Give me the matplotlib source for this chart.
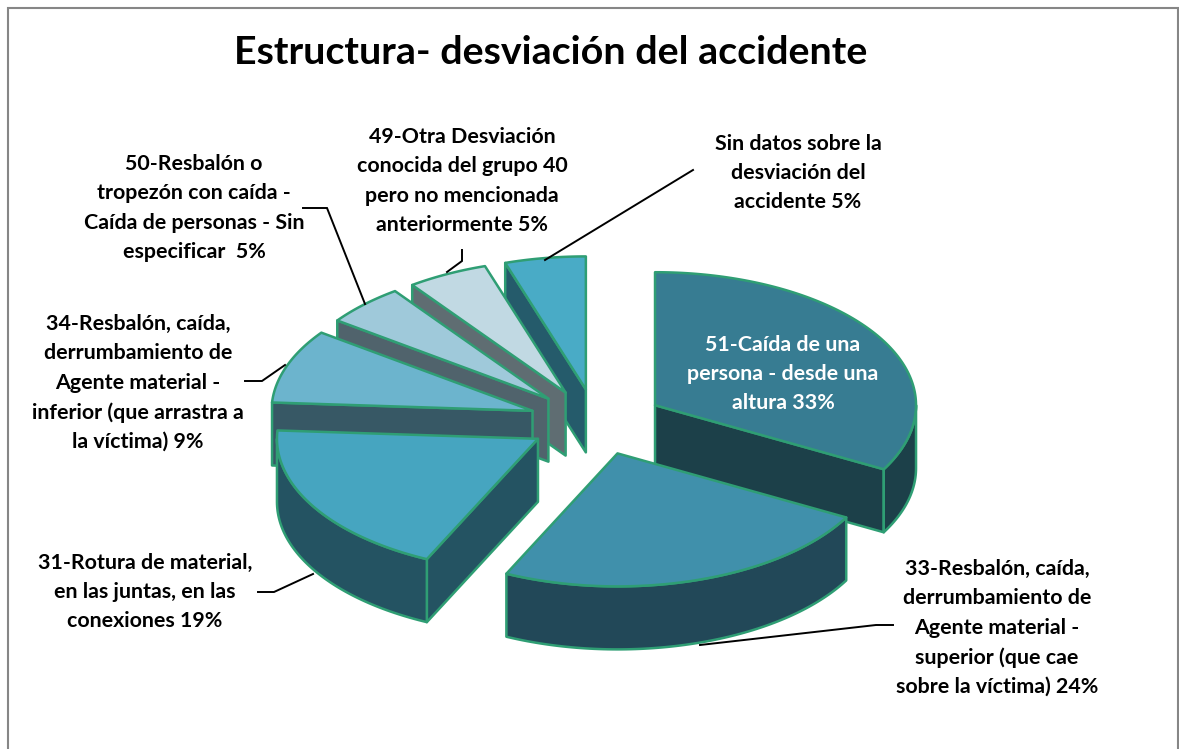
import numpy as np
import matplotlib
matplotlib.use("Agg")
import matplotlib.pyplot as plt
from matplotlib.patches import Polygon, Rectangle

plt.rcParams["font.family"] = ["Lato", "DejaVu Sans"]

title = "Estructura- desviación del accidente"
labels = [
    "51-Caída de una\npersona - desde una\naltura 33%",
    "33-Resbalón, caída,\nderrumbamiento de\nAgente material -\nsuperior (que cae\nsobre la víctima) 24%",
    "31-Rotura de material,\nen las juntas, en las\nconexiones 19%",
    "34-Resbalón, caída,\nderrumbamiento de\nAgente material -\ninferior (que arrastra a\nla víctima) 9%",
    "50-Resbalón o\ntropezón con caída -\nCaída de personas - Sin\nespecificar  5%",
    "49-Otra Desviación\nconocida del grupo 40\npero no mencionada\nanteriormente 5%",
    "Sin datos sobre la\ndesviación del\naccidente 5%",
]
values = [33, 24, 19, 9, 5, 5, 5]
top_colors = ["#377C92", "#4090AB", "#46A5C0", "#6CB4CD", "#9FC9DA", "#C1D9E3", "#49ABC6"]
side_colors = ["#1C4049", "#224858", "#245362", "#375865", "#50636C", "#5F6D72", "#255B6B"]
text_colors = ["white", "black", "black", "black", "black", "black", "black"]

# pie geometry in image pixels
center_x, center_y = 596.5, 422
radius_x, radius_y = 261, 133
explode_x, explode_y = 68, 33
depth = 63
edge = "#2F9E74"

label_pos = [(783, 374), (997, 628), (145, 592), (138, 383), (194, 208), (462, 181), (798, 173)]
leaders = [
    None,
    [(893, 625), (876, 625), (700, 645)],
    [(258, 592), (274, 592), (313, 574)],
    [(245, 381), (262, 381), (285, 365)],
    [(303, 208), (327, 208), (365, 304)],
    [(462, 250), (462, 261), (447, 272)],
    [(693, 170), (545, 260)],
]


def rim(cx, cy, a1, a2, dy=0):
    t = np.radians(np.linspace(a1, a2, max(int(abs(a2 - a1)), 2) + 1))
    return np.column_stack([cx + radius_x * np.sin(t), cy - radius_y * np.cos(t) + dy])


def wall(ax, points, color):
    ax.add_patch(Polygon(points, closed=True, fc=color, ec=edge, lw=1.8, joinstyle="round"))


def draw_slice(ax, cx, cy, a1, a2, top, side):
    # cut faces that look towards the viewer
    if np.sin(np.radians(a1)) < 0:
        p = rim(cx, cy, a1, a1)[0]
        wall(ax, [(cx, cy), p, p + (0, depth), (cx, cy + depth)], side)
    if np.sin(np.radians(a2)) > 0:
        p = rim(cx, cy, a2, a2)[0]
        wall(ax, [(cx, cy), p, p + (0, depth), (cx, cy + depth)], side)
    # outer wall, front half of the rim only
    lo, hi = max(a1, 90), min(a2, 270)
    if hi > lo:
        upper = rim(cx, cy, lo, hi)
        lower = rim(cx, cy, lo, hi, depth)
        wall(ax, np.vstack([upper, lower[::-1]]), side)
    wall(ax, np.vstack([[(cx, cy)], rim(cx, cy, a1, a2)]), top)


fig = plt.figure(figsize=(11.79, 7.49), dpi=100)
ax = fig.add_axes([0, 0, 1, 1])
ax.set_xlim(0, 1179)
ax.set_ylim(749, 0)
ax.axis("off")

ax.add_patch(Rectangle((8, 8), 1170, 760, fc="white", ec="#868686", lw=1.5))

fractions = np.array(values) / sum(values)
ends = np.cumsum(fractions) * 360
starts = ends - fractions * 360
mids = (starts + ends) / 2
centers_x = center_x + explode_x * np.sin(np.radians(mids))
centers_y = center_y - explode_y * np.cos(np.radians(mids))

# back slices first
for i in np.argsort(centers_y):
    draw_slice(ax, centers_x[i], centers_y[i], starts[i], ends[i], top_colors[i], side_colors[i])

for points in leaders:
    if points:
        xs, ys = zip(*points)
        ax.plot(xs, ys, color="black", lw=1.4, solid_joinstyle="miter")

for text, (x, y), color in zip(labels, label_pos, text_colors):
    ax.text(x, y, text, color=color, fontsize=15.4, fontweight="bold",
            ha="center", va="center", linespacing=1.58)

ax.text(551, 52, title, fontsize=28.4, fontweight="bold", ha="center", va="center")

fig.savefig("out.png", dpi=100)
plt.close(fig)
